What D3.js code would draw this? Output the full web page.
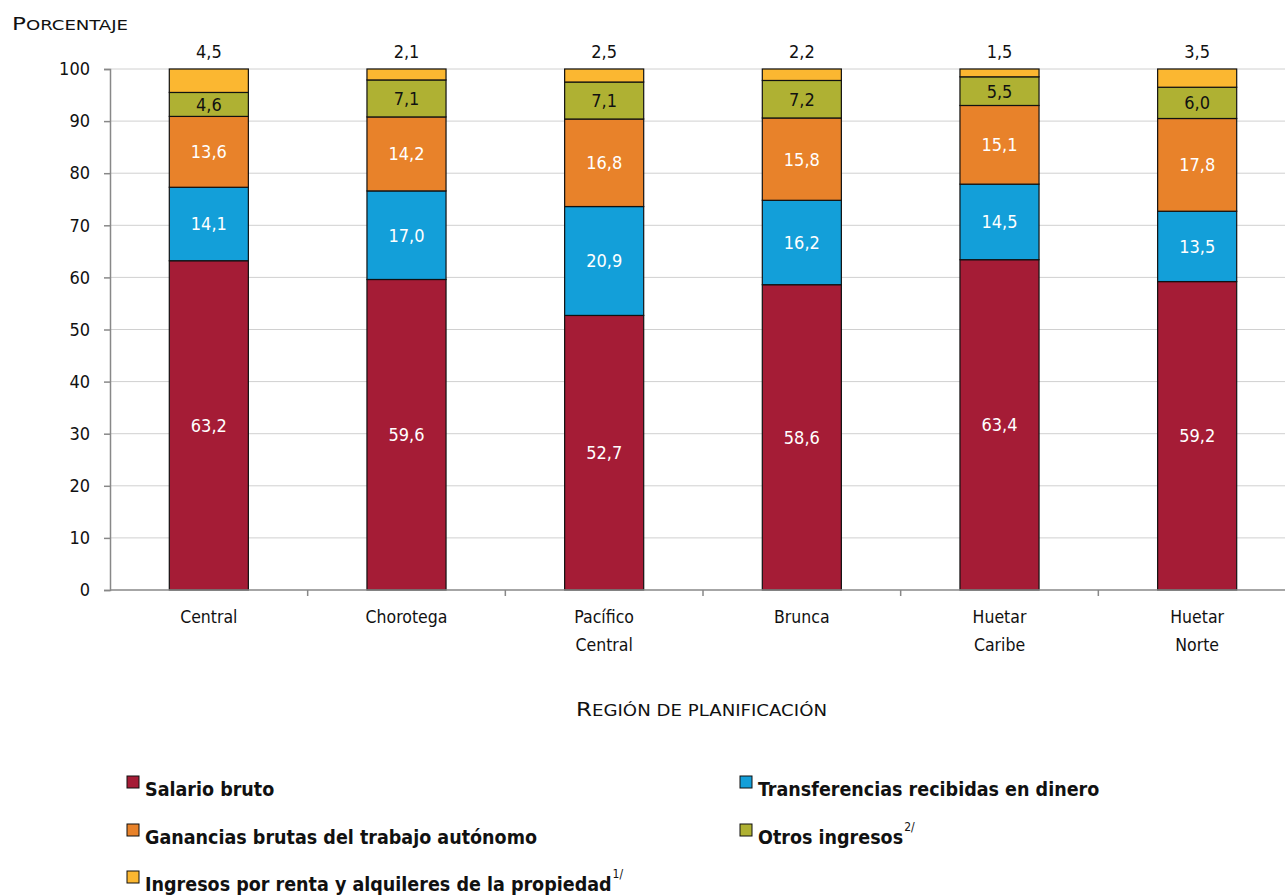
<!DOCTYPE html>
<html><head><meta charset="utf-8">
<script src="https://cdn.jsdelivr.net/npm/d3@7"></script>
<style>
body{margin:0;background:#fff;}
text{font-family:"DejaVu Sans Condensed","Liberation Sans Narrow",sans-serif;}
</style></head>
<body>
<svg id="c" width="1285" height="896"></svg>
<script>
const categories = [["Central"],["Chorotega"],["Pacífico","Central"],["Brunca"],["Huetar","Caribe"],["Huetar","Norte"]];
const salario = [63.2,59.6,52.7,58.6,63.4,59.2];
const transferencias = [14.1,17.0,20.9,16.2,14.5,13.5];
const ganancias = [13.6,14.2,16.8,15.8,15.1,17.8];
const otros = [4.6,7.1,7.1,7.2,5.5,6.0];
const renta = [4.5,2.1,2.5,2.2,1.5,3.5];
const yTicks = [0,10,20,30,40,50,60,70,80,90,100];

const series = [
  {name:"Salario bruto", values:salario, color:"#A51C36", label:"white"},
  {name:"Transferencias recibidas en dinero", values:transferencias, color:"#139FD9", label:"white"},
  {name:"Ganancias brutas del trabajo autónomo", values:ganancias, color:"#E8822A", label:"white"},
  {name:"Otros ingresos", sup:"2/", values:otros, color:"#AFB133", label:"#111"},
  {name:"Ingresos por renta y alquileres de la propiedad", sup:"1/", values:renta, color:"#FBB731", label:"top"}
];

const svg = d3.select("#c");
const x = d3.scaleBand().domain(d3.range(categories.length)).range([110,1296]).paddingInner(0).paddingOuter(0);
const y = d3.scaleLinear().domain([0,100]).range([590,69]);
const bw = x.bandwidth()*0.4;

// gridlines
svg.append("g").selectAll("line").data(yTicks.filter(d=>d>0)).join("line")
  .attr("x1",110).attr("x2",1285).attr("y1",d=>y(d)).attr("y2",d=>y(d))
  .attr("stroke","#d0d0d0").attr("stroke-width",1);

// y axis
const ya = svg.append("g").attr("transform","translate(110,0)").call(d3.axisLeft(y).tickValues(yTicks).tickSize(6).tickPadding(14));
ya.select(".domain").attr("stroke","#888").attr("stroke-width",1.5);
ya.selectAll(".tick line").attr("stroke","#888").attr("stroke-width",1.5);
ya.selectAll("text").attr("font-size",18).attr("fill","#111").style("font-family","DejaVu Sans Condensed");

// stacked bars
const stack = categories.map((c,i)=>{let acc=0;return series.map(s=>{const y0=acc;acc+=s.values[i];return {y0,y1:acc,v:s.values[i],s,i};});});
const g = svg.append("g");
stack.forEach(col=>{
  col.forEach(d=>{
    const cx = x(d.i)+x.bandwidth()/2;
    g.append("rect").attr("x",cx-bw/2).attr("width",bw)
      .attr("y",y(d.y1)).attr("height",y(d.y0)-y(d.y1))
      .attr("fill",d.s.color).attr("stroke","#111").attr("stroke-width",1.2);
    const lbl = d.v.toFixed(1).replace(".",",");
    if(d.s.label==="top"){
      g.append("text").attr("x",cx).attr("y",y(100)-11).attr("text-anchor","middle")
        .attr("font-size",18).attr("fill","#111").text(lbl);
    } else {
      g.append("text").attr("x",cx).attr("y",(y(d.y0)+y(d.y1))/2).attr("dy","0.36em").attr("text-anchor","middle")
        .attr("font-size",18).attr("fill",d.s.label).text(lbl);
    }
  });
});

// x axis
const xa = svg.append("g").attr("transform","translate(0,590)");
xa.append("line").attr("x1",110).attr("x2",1285).attr("y1",0).attr("y2",0).attr("stroke","#888").attr("stroke-width",1.5);
xa.selectAll(".tk").data(d3.range(1,categories.length)).join("line")
  .attr("x1",d=>x(d)).attr("x2",d=>x(d)).attr("y1",0).attr("y2",6).attr("stroke","#888").attr("stroke-width",1.5);
categories.forEach((c,i)=>{
  const t = xa.append("text").attr("x",x(i)+x.bandwidth()/2).attr("y",33).attr("text-anchor","middle").attr("font-size",17.5).attr("fill","#111");
  c.forEach((line,j)=>t.append("tspan").attr("x",x(i)+x.bandwidth()/2).attr("dy",j===0?0:"1.6em").text(line));
});

// small-caps titles
function smallCaps(xp, yp, str, big, small, len){
  const t = svg.append("text").attr("x",xp).attr("y",yp).attr("fill","#111")
    .attr("textLength",len).attr("lengthAdjust","spacingAndGlyphs");
  str.split(" ").forEach((w,k)=>{
    const first = w[0], rest = w.slice(1);
    const isCap = first === first.toUpperCase();
    t.append("tspan").attr("font-size",isCap?big:small).text((k>0?" ":"")+first.toUpperCase());
    t.append("tspan").attr("font-size",small).text(rest.toUpperCase());
  });
}
smallCaps(12,30,"Porcentaje",18.5,14.5,116);
smallCaps(576,716,"Región de planificación",19,15,251);

// legend
const legendPos = [[127,796],[740,796],[127,844],[740,844],[127,891]];
series.forEach((s,k)=>{
  const [lx,ly] = legendPos[k];
  svg.append("rect").attr("x",lx).attr("y",ly-20).attr("width",12).attr("height",12).attr("fill",s.color).attr("stroke","#111").attr("stroke-width",1);
  const t = svg.append("text").attr("x",lx+18).attr("y",ly).attr("font-size",19.5).attr("font-weight","bold").attr("fill","#111").text(s.name);
  if(s.sup) t.append("tspan").attr("dx",1).attr("dy",-13).attr("font-size",12).attr("font-weight","normal").text(s.sup);
});
</script>
</body></html>
